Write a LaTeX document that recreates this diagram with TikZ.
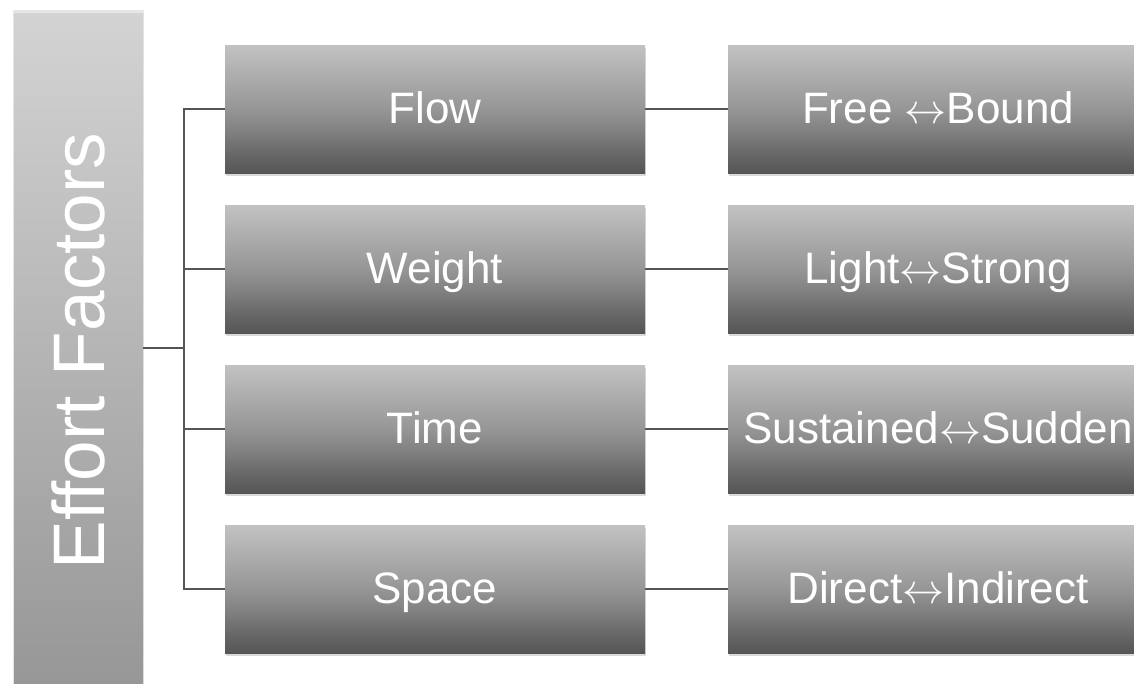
\documentclass[tikz,border=0pt]{standalone}
\usepackage{fontspec}
\setmainfont{Liberation Sans}
\usepackage{graphicx}
\usepackage[rgb]{xcolor}
\usepackage{tikz}
\usetikzlibrary{shadows}

\definecolor{boxtop}{HTML}{C2C2C2}
\definecolor{boxmid}{HTML}{969696}
\definecolor{boxbot}{HTML}{555555}
\definecolor{sidetop}{HTML}{D3D3D3}
\definecolor{sidebot}{HTML}{979797}
\definecolor{linkgray}{HTML}{555555}

\newcommand{\both}{\scalebox{4.2}{\fontsize{10}{12}\selectfont\(\leftrightarrow\)}}

\begin{document}
\begin{tikzpicture}[x=1pt, y=-1pt,
  factor/.style={minimum width=420pt, minimum height=128pt, inner sep=0pt,
    top color=boxtop, bottom color=boxbot, middle color=boxmid,
    text=white, font=\fontsize{44}{50}\selectfont,
    text height=31.5pt, text depth=3.5pt,
    drop shadow={shadow xshift=1pt, shadow yshift=-3pt, opacity=0.3}},
  link/.style={draw=linkgray, line width=1.3pt}]

\useasboundingbox (0,0) rectangle (1134,683);

%
% Effort factors column
%
\node (effort) [minimum width=129pt, minimum height=670pt, inner sep=0pt,
  top color=sidetop, bottom color=sidebot,
  drop shadow={shadow xshift=0pt, shadow yshift=0pt, opacity=0.2, shadow scale=1.01},
  label={[rotate=90, text=white, font=\fontsize{73}{80}\selectfont, xshift=-3pt]center:Effort Factors}]
  at (78.5,348) {};

\coordinate (fork) at (184,348);

%
% Factors
%

% Flow
\node (flow) [factor] at (435,109) {Flow};
\node (free) [factor] at (938,109) {Free \both Bound};

% Weight
\node (weight) [factor] at (435,269) {Weight};
\node (light) [factor] at (938,269) {Light\both Strong};

% Time
\node (time) [factor] at (435,429) {Time};
\node (sustained) [factor] at (938,429) {Sustained\both Sudden};

% Space
\node (space) [factor] at (435,589) {Space};
\node (direct) [factor] at (938,589) {Direct\both Indirect};

%
% Connectors
%
\draw[link] (effort.east) -- (fork);
\draw[link] (fork) |- (flow.west);
\draw[link] (fork) |- (weight.west);
\draw[link] (fork) |- (time.west);
\draw[link] (fork) |- (space.west);

\draw[link] (flow.east) -- (free.west);
\draw[link] (weight.east) -- (light.west);
\draw[link] (time.east) -- (sustained.west);
\draw[link] (space.east) -- (direct.west);

\end{tikzpicture}
\end{document}
